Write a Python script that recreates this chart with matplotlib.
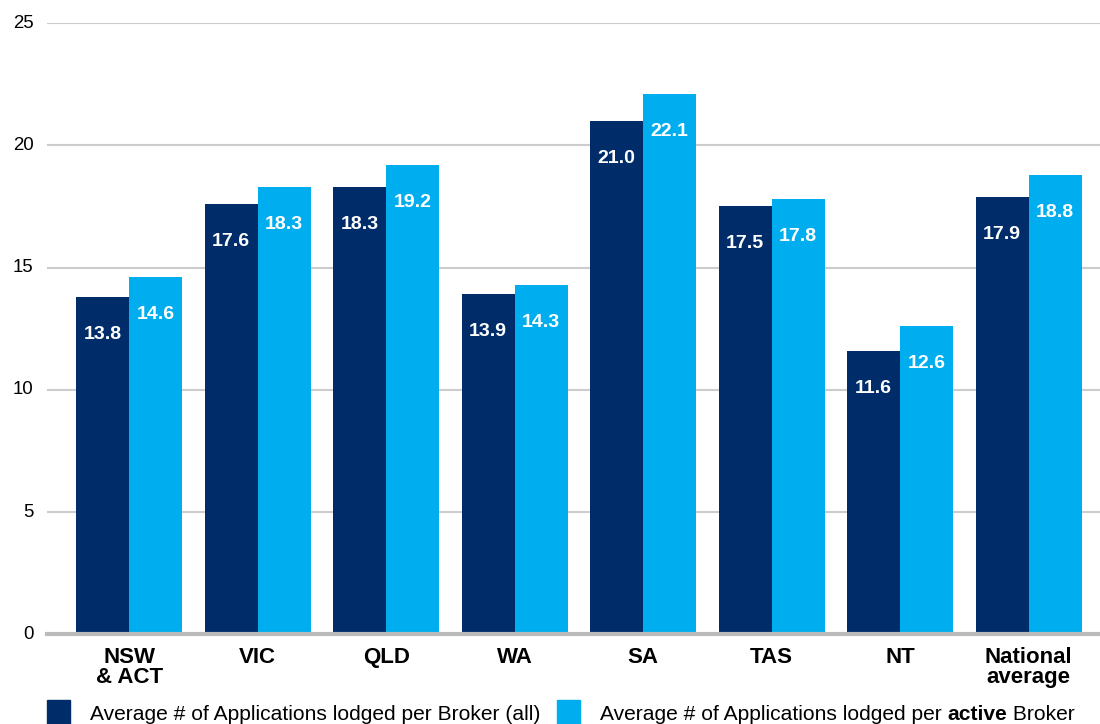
import matplotlib.pyplot as plt
from matplotlib.patches import Rectangle

plt.rcParams['font.family'] = ['Liberation Sans', 'DejaVu Sans']

# Average applications lodged per broker, by state
states = ['NSW\n& ACT', 'VIC', 'QLD', 'WA', 'SA', 'TAS', 'NT', 'National\naverage']
all_brokers = [13.8, 17.6, 18.3, 13.9, 21.0, 17.5, 11.6, 17.9]
active_brokers = [14.6, 18.3, 19.2, 14.3, 22.1, 17.8, 12.6, 18.8]

dark = '#002d6a'
light = '#00aeef'

fig = plt.figure(figsize=(11, 7.24), dpi=100)
ax = fig.add_axes([0.043, 0.124, 0.957, 0.844])

w = 0.412
x = list(range(len(states)))
b1 = ax.bar([i - w / 2 for i in x], all_brokers, width=w, color=dark, zorder=3)
b2 = ax.bar([i + w / 2 for i in x], active_brokers, width=w, color=light, zorder=3)

for bars, vals in ((b1, all_brokers), (b2, active_brokers)):
    for rect, v in zip(bars, vals):
        ax.annotate(f'{v:.1f}', (rect.get_x() + rect.get_width() / 2, v),
                    xytext=(0, -27), textcoords='offset points',
                    ha='center', va='center', color='white',
                    fontsize=14, fontweight='bold', zorder=4)

ax.set_xlim(-0.638, 7.556)
ax.set_ylim(0, 25)
ax.set_yticks([0, 5, 10, 15, 20, 25])
ax.set_xticks(x)
ax.set_xticklabels(states, fontsize=16, fontweight='bold', linespacing=0.95, va='top')
ax.tick_params(axis='both', length=0)
ax.tick_params(axis='y', labelsize=13.4, pad=10)
ax.tick_params(axis='x', pad=9)
for lbl in ax.get_yticklabels():
    lbl.set_verticalalignment('center')
    lbl.set_y(0.05)

ax.grid(axis='y', color='#cccccc', linewidth=1.5, zorder=0)
for s in ['top', 'right', 'left']:
    ax.spines[s].set_visible(False)
ax.spines['bottom'].set_color('#bbbbbb')
ax.spines['bottom'].set_linewidth(3)
ax.spines['bottom'].set_zorder(5)

# legend drawn by hand so "active" can be bold
W, H = 1100, 724
def fx(px):
    return px / W
def fy(py):
    return 1 - py / H

fig.patches.append(Rectangle((fx(47), fy(724)), 23 / W, 24 / H, color=dark,
                             transform=fig.transFigure, figure=fig))
fig.patches.append(Rectangle((fx(557), fy(724)), 23 / W, 24 / H, color=light,
                             transform=fig.transFigure, figure=fig))
ty = fy(714)
fs = 15.1
fig.text(fx(90), ty, 'Average # of Applications lodged per Broker (all)',
         fontsize=fs, va='center', ha='left')

fig.canvas.draw()
r = fig.canvas.get_renderer()
t1 = fig.text(fx(600), ty, 'Average # of Applications lodged per ', fontsize=fs,
              va='center', ha='left')
x1 = t1.get_window_extent(r).x1
t2 = fig.text(x1 / W, ty, 'active', fontsize=fs, fontweight='bold',
              va='center', ha='left')
x2 = t2.get_window_extent(r).x1
fig.text(x2 / W, ty, ' Broker', fontsize=fs, va='center', ha='left')

fig.savefig('out.png', dpi=100)
